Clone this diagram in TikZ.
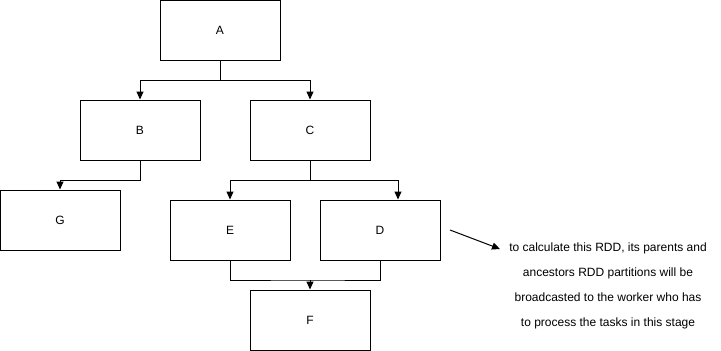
\documentclass[tikz,border=0pt]{standalone}
\usepackage{fontspec}
\setmainfont{Liberation Sans}
\usetikzlibrary{arrows.meta}
\begin{document}
\begin{tikzpicture}[x=1pt,y=-1pt,
  box/.style={draw=black,line width=1pt,minimum width=120pt,minimum height=60pt,inner sep=0pt,font=\fontsize{12}{14}\selectfont},
  conn/.style={draw=black,line width=1pt},
  arr/.style={conn,-{Triangle[length=8pt,width=7pt]}},
  note/.style={anchor=base,inner sep=0pt,font=\fontsize{12}{14}\selectfont}]
\useasboundingbox (0,0) rectangle (721,351);
\node[box] (A) at (220,30) {A};
\node[box] (B) at (140,130) {B};
\node[box] (C) at (310,130) {C};
\node[box] (G) at (60,220) {G};
\node[box] (E) at (230,230) {E};
\node[box] (D) at (380,230) {D};
\node[box] (F) at (310,320) {F};
\draw[arr] (A.south) -- ++(0,20) -| (B.north);
\draw[arr] (A.south) -- ++(0,20) -| (C.north);
\draw[arr] (B.south) -- ++(0,20) -| (G.north);
\draw[arr] (C.south) -- ++(0,20) -| (E.north);
\draw[arr] (C.south) -- ++(0,20) -| ([xshift=18pt]D.north);
\coordinate (m) at (310,280);
\draw[conn] (E.south) |- (m) -| (D.south);
\draw[arr] (m) -- (F.north);
\coordinate (s) at (450,230);
\coordinate (e) at (500,249);
\draw[arr] (s) -- (e);
\node[note] (t1) at (608,251) {to calculate this RDD, its parents and};
\node[note] (t2) at (608,276) {ancestors RDD partitions will be};
\node[note] (t3) at (608,301.5) {broadcasted to the worker who has};
\node[note] (t4) at (608,326.5) {to process the tasks in this stage};
\end{tikzpicture}
\end{document}
